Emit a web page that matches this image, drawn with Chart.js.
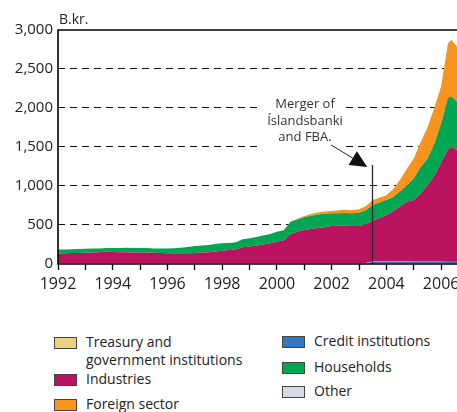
<!DOCTYPE html>
<html><head><meta charset="utf-8">
<script src="https://cdn.jsdelivr.net/npm/chart.js@4.4.1/dist/chart.umd.min.js"></script>
<style>
html,body{margin:0;padding:0;background:#fff;}
#wrap{position:relative;width:457px;height:412px;overflow:hidden;font-family:"Open Sans",sans-serif;color:#222;}
#c{position:absolute;left:0;top:0;}
#unit{position:absolute;left:59px;top:9px;font-size:14px;line-height:20px;color:#222;}
#note{position:absolute;left:255px;top:95px;width:100px;text-align:center;font-size:13px;line-height:16.5px;color:#333;}
.lg{position:absolute;font-size:14px;line-height:18px;color:#222;white-space:nowrap;}
.lg .bx{position:absolute;width:21px;height:10px;border:1px solid #444;}
</style></head>
<body>
<div id="wrap">
<canvas id="c" width="457" height="300"></canvas>
<div id="unit">B.kr.</div>
<div id="note">Merger of<br>Íslandsbanki<br>and FBA.</div>
</div>
<script>
const dates = [1992,1992.25,1992.5,1992.75,1993,1993.25,1993.5,1993.75,1994,1994.25,1994.5,1994.75,1995,1995.25,1995.5,1995.75,1996,1996.25,1996.5,1996.75,1997,1997.25,1997.5,1997.75,1998,1998.25,1998.5,1998.75,1999,1999.25,1999.5,1999.75,2000,2000.25,2000.5,2000.75,2001,2001.25,2001.5,2001.75,2002,2002.25,2002.5,2002.75,2003,2003.25,2003.5,2003.75,2004,2004.25,2004.5,2004.75,2005,2005.25,2005.5,2005.75,2006,2006.25,2006.38,2006.58];
const treasury = [5,5,5,5,5,5,5,5,5,5,5,5,5,5,5,5,5,5,5,5,5,5,5,5,5,5,5,5,5,5,5,5,5,5,5,5,5,5,5,5,5,5,5,5,5,5,5,5,5,5,5,5,5,5,5,5,5,5,5,5];
const credit = [4,4,4,4,4,4,4,4,4,4,4,4,4,4,4,4,4,4,4,4,4,4,4,4,4,4,4,4,4,4,4,4,4,4,4,4,4,4,4,4,4,4,4,4,4,4,25,25,28,28,28,28,30,30,30,30,30,32,32,32];
const other = [3,3,3,3,3,3,3,3,3,3,3,3,3,3,3,3,3,3,3,3,3,3,3,3,3,3,3,3,3,3,3,3,3,3,3,3,3,3,3,3,3,3,3,3,3,3,3,3,3,3,3,3,3,3,3,3,3,3,3,3];
const industries = [123,125,128,130,133,135,138,148,142,140,138,137,136,135,133,128,125,125,126,127,128,134,140,148,158,166,178,202,213,224,238,253,274,293,373,400,424,436,448,460,475,478,478,476,475,498,522,557,592,644,704,763,782,867,972,1092,1262,1430,1462,1421];
const households = [50,50,50,50,50,51,50,44,51,54,57,57,57,57,55,60,63,65,70,79,90,92,93,95,95,92,90,102,105,109,115,120,128,127,157,158,162,172,175,173,163,162,165,164,171,180,201,200,192,180,190,211,278,335,340,410,500,660,645,620];
const foreign = [0,0,0,0,0,0,0,0,0,0,0,0,0,0,0,0,0,0,0,0,0,0,0,0,0,0,0,0,0,0,0,0,0,0,3,10,17,20,25,27,29,36,40,38,43,50,64,60,60,100,150,210,256,320,400,460,480,700,725,705];
const yTicks = [0,500,1000,1500,2000,2500,3000];
const mergerDate = 2003.48;

const series = [
  {label:'Treasury and government institutions', data:treasury, color:'#E9D27E'},
  {label:'Credit institutions', data:credit, color:'#3178C4'},
  {label:'Other', data:other, color:'#D5DAE3'},
  {label:'Industries', data:industries, color:'#BA135F'},
  {label:'Households', data:households, color:'#00A651'},
  {label:'Foreign sector', data:foreign, color:'#F7941D'}
];

const datasets = series.map((s,i)=>({
  label:s.label,
  data:s.data.map((v,j)=>({x:dates[j],y:v})),
  backgroundColor:s.color,
  borderColor:s.color,
  borderWidth:0,
  pointRadius:0,
  tension:0,
  fill: i===0 ? 'origin' : '-1'
}));

const framePlugin = {
  id:'frame',
  beforeDatasetsDraw(chart){
    const ctx = chart.ctx;
    ctx.save();
    ctx.fillStyle='#fff';
    ctx.fillRect(260,95,81,57);
    ctx.restore();
  },
  afterDatasetsDraw(chart){
    const {ctx, chartArea:a, scales:{x,y}} = chart;
    ctx.save();
    const mx = Math.round(x.getPixelForValue(mergerDate))+0.5;
    ctx.strokeStyle='#2a2a2a'; ctx.lineWidth=1.3;
    ctx.beginPath(); ctx.moveTo(mx, y.getPixelForValue(1270)); ctx.lineTo(mx, a.bottom); ctx.stroke();
    const tx = x.getPixelForValue(2001.98), ty = y.getPixelForValue(1526);
    const hx = x.getPixelForValue(2003.30), hy = y.getPixelForValue(1244);
    const dx = hx-tx, dy = hy-ty, L = Math.hypot(dx,dy), ux=dx/L, uy=dy/L;
    const hl = 17, hw = 8;
    const bx = hx-ux*hl, by = hy-uy*hl;
    ctx.strokeStyle='#222'; ctx.lineWidth=1;
    ctx.beginPath(); ctx.moveTo(tx,ty); ctx.lineTo(bx,by); ctx.stroke();
    ctx.fillStyle='#111';
    ctx.beginPath(); ctx.moveTo(hx,hy); ctx.lineTo(bx-uy*hw, by+ux*hw); ctx.lineTo(bx+uy*hw, by-ux*hw); ctx.closePath(); ctx.fill();
    ctx.strokeStyle='#000'; ctx.lineWidth=1.6;
    ctx.beginPath();
    ctx.moveTo(a.right, a.top); ctx.lineTo(a.left, a.top); ctx.lineTo(a.left, a.bottom); ctx.lineTo(a.right, a.bottom);
    ctx.stroke();
    ctx.restore();
  }
};

new Chart(document.getElementById('c'), {
  type:'line',
  data:{datasets},
  plugins:[framePlugin],
  options:{
    responsive:false, animation:false,
    layout:{padding:{top:30,right:0,left:0,bottom:0}},
    plugins:{legend:{display:false}, tooltip:{enabled:false}},
    scales:{
      x:{type:'linear', min:1992, max:2006.58,
        ticks:{stepSize:1, autoSkip:false, maxRotation:0, includeBounds:false,
          callback:v=> (v%2===0 ? String(v) : ''),
          font:{family:'Open Sans', size:16}, color:'#222', padding:5},
        grid:{drawOnChartArea:false, drawTicks:true, tickLength:6, tickColor:'#000', tickWidth:1.3},
        border:{display:false},
        afterFit:s=>{ s.height=36; s.paddingLeft=0; s.paddingRight=0; }
      },
      y:{stacked:true, min:0, max:3000,
        afterBuildTicks:s=>{ s.ticks = yTicks.map(v=>({value:v})); },
        ticks:{callback:v=>v.toLocaleString('en-US'), font:{family:'Open Sans', size:15}, color:'#222', padding:5},
        grid:{drawTicks:false, lineWidth:1.1,
          color:c=> (c.tick && (c.tick.value===0 || c.tick.value===3000)) ? 'rgba(0,0,0,0)' : '#111'},
        border:{display:false, dash:[7,5]},
        afterFit:s=>{ s.width=58; }
      }
    }
  }
});

const legendPos = [
  {i:0, left:54, top:337},
  {i:3, left:54, top:374},
  {i:5, left:54, top:399},
  {i:1, left:282, top:336},
  {i:4, left:282, top:362},
  {i:2, left:282, top:386}
];
const wrap = document.getElementById('wrap');
legendPos.forEach(p=>{
  const s = series[p.i];
  const d = document.createElement('div');
  d.className='lg';
  d.style.left=p.left+'px'; d.style.top=p.top+'px';
  const b = document.createElement('span'); b.className='bx';
  b.style.left='0px'; b.style.top='0px'; b.style.background=s.color;
  const t = document.createElement('span');
  t.style.position='absolute'; t.style.left='32px'; t.style.top='-4px';
  if(p.i===0){ t.innerHTML='Treasury and<br>government institutions'; }
  else { t.textContent=s.label; }
  d.appendChild(b); d.appendChild(t);
  wrap.appendChild(d);
});
</script>
</body></html>
